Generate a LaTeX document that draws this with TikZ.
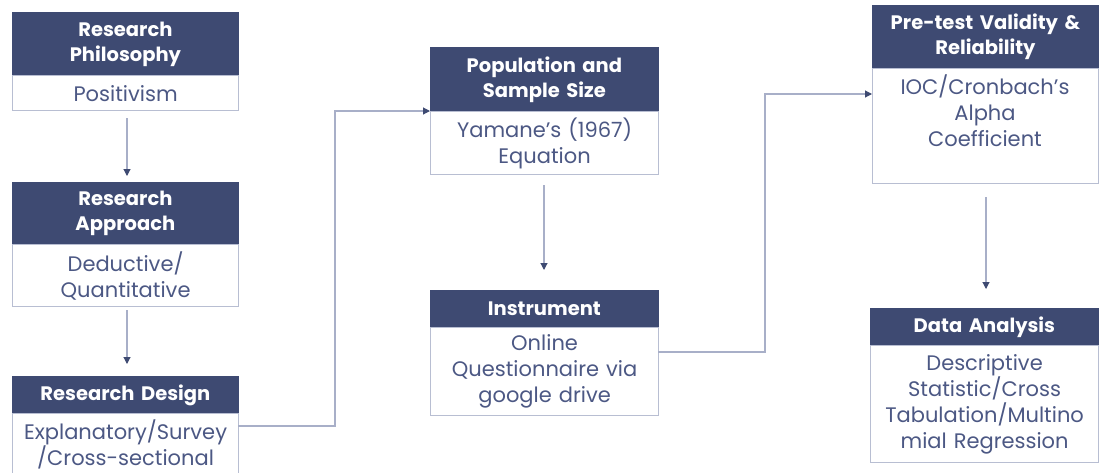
\documentclass[tikz,border=0pt]{standalone}
\usepackage{fontspec}
\setmainfont{Poppins}
\usetikzlibrary{arrows.meta}
\definecolor{hdr}{RGB}{62,74,114}
\definecolor{bodytxt}{RGB}{76,88,132}
\definecolor{bord}{RGB}{184,190,210}
\definecolor{conn}{RGB}{168,175,200}
\tikzset{
  hdrbox/.style={fill=hdr, draw=hdr, text=white, font=\fontsize{19.5}{25}\selectfont\bfseries,
    anchor=north west, inner sep=0pt, align=center, line width=0.8pt},
  bodybox/.style={draw=bord, fill=white, text=bodytxt, font=\fontsize{21}{26}\selectfont,
    anchor=north west, inner sep=0pt, align=center, line width=1.2pt},
  conn/.style={draw=conn, line width=1.1pt, -{Triangle[width=7pt,length=7pt,color=hdr]}},
}
\begin{document}
\begin{tikzpicture}[x=1pt,y=-1pt]
\useasboundingbox (0,0) rectangle (1101,472);
% column 1
\node[hdrbox, minimum width=226pt, minimum height=63pt, text width=224pt] (h1) at (12,12) {Research\\Philosophy};
\node[bodybox, minimum width=226pt, minimum height=35pt, text width=224pt] (b1) at (12,75) {Positivism};
\node[hdrbox, minimum width=226pt, minimum height=62pt, text width=224pt] (h2) at (12,182) {Research\\Approach};
\node[bodybox, minimum width=226pt, minimum height=62pt, text width=224pt] (b2) at (12,244) {Deductive/\\Quantitative};
\node[hdrbox, minimum width=226pt, minimum height=37pt, text width=224pt] (h3) at (12,376) {Research Design};
\node[bodybox, minimum width=226pt, minimum height=62pt, text width=224pt] (b3) at (12,413) {Explanatory/Survey\\/Cross-sectional};
% column 2
\node[hdrbox, minimum width=228pt, minimum height=64pt, text width=226pt] (h4) at (430,47) {Population and\\Sample Size};
\node[bodybox, minimum width=228pt, minimum height=63pt, text width=226pt] (b4) at (430,111) {Yamane’s (1967)\\Equation};
\node[hdrbox, minimum width=228pt, minimum height=37pt, text width=226pt] (h5) at (430,290) {Instrument};
\node[bodybox, minimum width=228pt, minimum height=88pt, text width=226pt] (b5) at (430,327) {Online\\Questionnaire via\\google drive};
% column 3
\node[hdrbox, minimum width=226pt, minimum height=63pt, text width=224pt] (h6) at (872,5) {Pre-test Validity \&\\Reliability};
\node[bodybox, minimum width=226pt, minimum height=115pt, text width=224pt] (b6) at (872,68) {};
\node[text=bodytxt, font=\fontsize{21}{26}\selectfont, align=center, anchor=north, inner sep=0pt] (t6) at (985,75) {IOC/Cronbach’s\\Alpha\\Coefficient};
\node[hdrbox, minimum width=228pt, minimum height=37pt, text width=226pt] (h7) at (870,308) {Data Analysis};
\node[bodybox, minimum width=228pt, minimum height=117pt, text width=226pt] (b7) at (870,345) {Descriptive\\Statistic/Cross\\Tabulation/Multino\\mial Regression};
% connectors
\coordinate (a1s) at (127,118); \coordinate (a1e) at (127,182);
\draw[conn, shorten >=6pt] (a1s) -- (a1e);
\coordinate (a2s) at (127,310); \coordinate (a2e) at (127,376);
\draw[conn, shorten >=12pt] (a2s) -- (a2e);
\coordinate (a3s) at (544,185); \coordinate (a3e) at (544,290);
\draw[conn, shorten >=20pt] (a3s) -- (a3e);
\coordinate (a4s) at (986,197); \coordinate (a4e) at (986,308);
\draw[conn, shorten >=19pt] (a4s) -- (a4e);
\coordinate (e1s) at (238,426); \coordinate (e1t) at (430,111);
\draw[conn] (e1s) -- (335,426) -- (335,111) -- (e1t);
\coordinate (e2s) at (658,352); \coordinate (e2t) at (872,94);
\draw[conn] (e2s) -- (765,352) -- (765,94) -- (e2t);
\end{tikzpicture}
\end{document}
